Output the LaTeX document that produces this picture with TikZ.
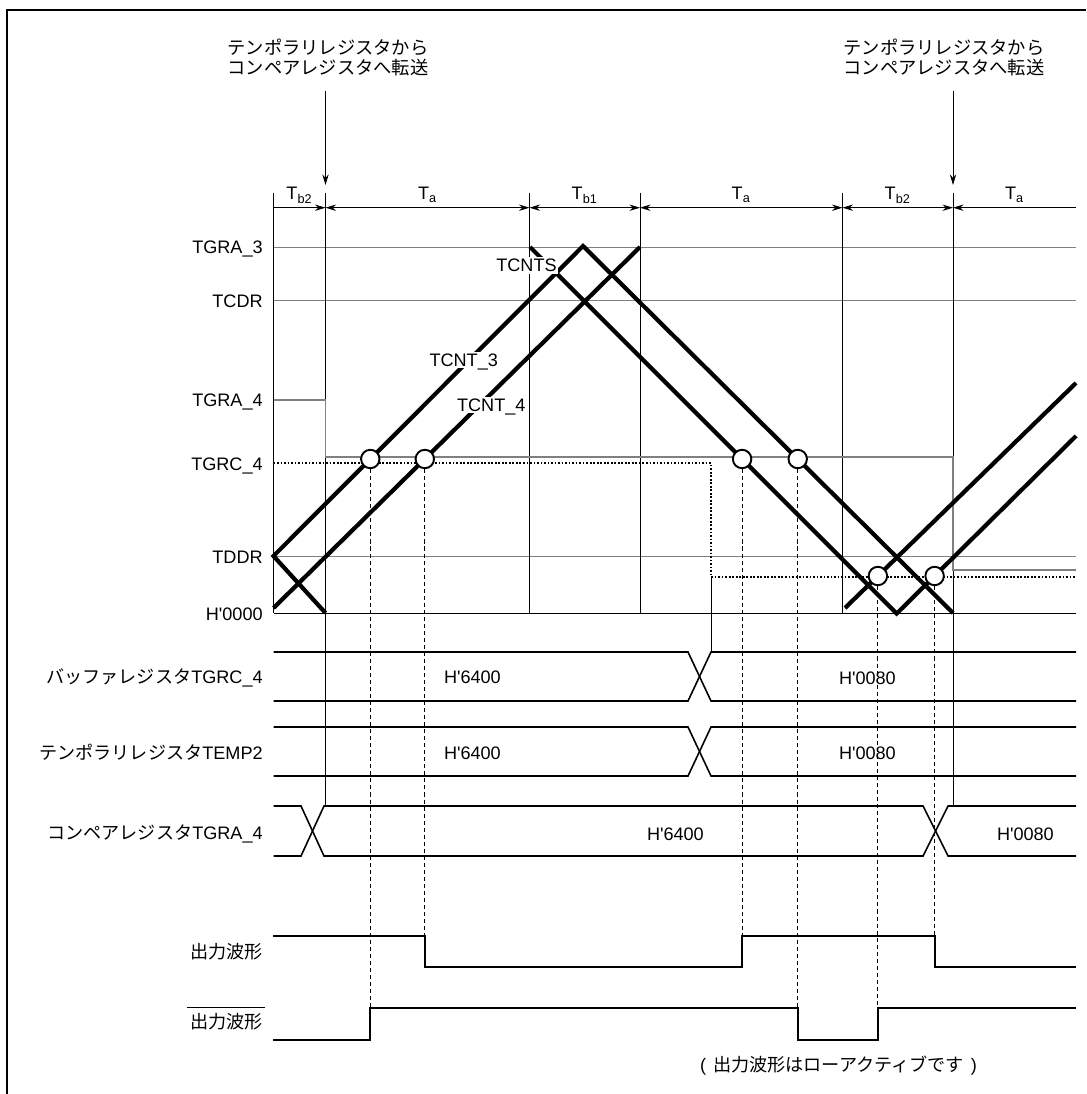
\documentclass[tikz,border=0pt]{standalone}
\usepackage{fontspec}
\setmainfont{Liberation Sans}
\newfontfamily\jpfont{Noto Sans CJK JP}
\newcommand{\jp}[1]{{\jpfont #1}}
\newcommand{\hx}[1]{H\textquotesingle #1}
\usepackage{tikz}
\usetikzlibrary{arrows.meta,positioning}

\tikzset{
  grid/.style={gray,line width=0.5pt},
  tick/.style={black,line width=0.5pt},
  count/.style={line width=2.4pt},
  bus/.style={line width=0.9pt},
  wave/.style={line width=1.1pt},
  lbl/.style={anchor=east,inner sep=0pt,text height=7.4pt,text depth=0pt},
  val/.style={inner sep=0pt,text height=7.4pt,text depth=0pt},
  cntlbl/.style={fill=white,inner sep=1pt,text height=7.4pt,text depth=0pt},
  hit/.style={circle,draw,fill=white,line width=1.1pt,inner sep=0pt,minimum size=10.5pt},
  guide/.style={line width=0.5pt,dash pattern=on 2.3pt off 1.7pt},
  lvl/.style={gray,line width=1.1pt},
  cmpdot/.style={line width=1.1pt,dash pattern=on 1pt off 1pt},
}

\begin{document}
\begin{tikzpicture}[x=0.02cm,y=-0.02cm,>={Stealth[length=6pt,width=3.6pt]},
    font=\fontsize{10.3pt}{11.9pt}\selectfont]
  \useasboundingbox (0,0) rectangle (1086,1094);
  % frame
  \draw[line width=1pt] (7,1094) -- (7,10) -- (1086,10);

  % period boundaries
  \coordinate (t0) at (273.5,193);
  \coordinate (t1) at (325.5,193);
  \coordinate (t2) at (529.5,193);
  \coordinate (t3) at (640,193);
  \coordinate (t4) at (842.5,193);
  \coordinate (t5) at (953,193);

  % register levels
  \foreach \yy in {247,300,556}
    \draw[grid] (273.5,\yy) -- (1076,\yy);
  \draw[tick] (273.5,613) -- (1076,613);

  \draw[tick] (t0) -- (273.5,613);
  \draw[tick] (t1) -- (325.5,806);
  \draw[tick] (t2) -- (529.5,613);
  \draw[tick] (t3) -- (640,613);
  \draw[tick] (t4) -- (842.5,613);
  \draw[tick] (t5) -- (953,806);

  % interval arrows
  \draw[tick,->] (273.5,207.7) -- (325.5,207.7);
  \draw[tick,<->] (325.5,207.7) -- (529.5,207.7);
  \draw[tick,<->] (529.5,207.7) -- (640,207.7);
  \draw[tick,<->] (640,207.7) -- (842.5,207.7);
  \draw[tick,<->] (842.5,207.7) -- (953,207.7);
  \draw[tick,<-] (953,207.7) -- (1076,207.7);
  \node[anchor=base] (tb2a) at (299.5,200) {T\textsubscript{b2}};
  \node[anchor=base] (ta1) at (427.5,200) {T\textsubscript{a}};
  \node[anchor=base] (tb1) at (584.7,200) {T\textsubscript{b1}};
  \node[anchor=base] (ta2) at (741.2,200) {T\textsubscript{a}};
  \node[anchor=base] (tb2b) at (897.7,200) {T\textsubscript{b2}};
  \node[anchor=base] (ta3) at (1014.5,200) {T\textsubscript{a}};

  % transfer notes
  \node[align=center,font=\jpfont\fontsize{10.4pt}{11.9pt}\selectfont] (xfer1) at (328,57.5)
    {テンポラリレジスタから\\コンペアレジスタへ転送};
  \node[align=center,font=\jpfont\fontsize{10.4pt}{11.9pt}\selectfont] (xfer2) at (944,57.5)
    {テンポラリレジスタから\\コンペアレジスタへ転送};
  \coordinate (x1end) at (325.5,185);
  \coordinate (x2end) at (953,185);
  \draw[tick,->] (xfer1.south -| t1) ++(0,8) -- (x1end);
  \draw[tick,->] (xfer2.south -| t5) ++(0,8) -- (x2end);

  % axis labels
  \node[lbl] (lga3) at (263,247) {TGRA\_3};
  \node[lbl] (lcdr) at (263,301) {TCDR};
  \node[lbl] (lga4) at (263,400) {TGRA\_4};
  \node[lbl] (lgc4) at (263,464) {TGRC\_4};
  \node[lbl] (lddr) at (263,556.5) {TDDR};
  \node[lbl] (lzero) at (263,614) {\hx{0000}};

  % compare levels
  \draw[lvl] (273.5,400) -- (325.5,400) -- (325.5,457) -- (953,457) -- (953,570) -- (1076,570);
  \draw[cmpdot] (273.5,463) -- (711,463) -- (711,577) -- (1076,577);
  \draw[tick] (711,577) -- (711,652);

  % counters
  \draw[count] (325.5,613) -- (273.5,556) -- (583,246) -- (953,613);
  \draw[count] (273.5,608) -- (640,247);
  \draw[count] (530,247) -- (896.7,613.5) -- (1076,436);
  \draw[count] (845,608) -- (1076,383);
  \node[cntlbl] (n3) at (463.7,360) {TCNT\_3};
  \node[cntlbl] (n4) at (491.3,405) {TCNT\_4};
  \node[cntlbl] (ns) at (526.5,265.5) {TCNTS};

  % compare match points
  \node[hit] (c1) at (370.3,459) {};
  \node[hit] (c2) at (424.8,459) {};
  \node[hit] (c3) at (742.1,459) {};
  \node[hit] (c4) at (797.7,459) {};
  \node[hit] (c5) at (877.9,576) {};
  \node[hit] (c6) at (934.6,576) {};

  % registers
  \draw[bus] (273.5,652) -- (688,652) -- (711,701) -- (1076,701);
  \draw[bus] (273.5,701) -- (688,701) -- (711,652) -- (1076,652);
  \draw[bus] (273.5,727) -- (688,727) -- (711,776) -- (1076,776);
  \draw[bus] (273.5,776) -- (688,776) -- (711,727) -- (1076,727);
  \draw[bus] (273.5,806) -- (301,806) -- (324,856) -- (923,856) -- (948,806) -- (1076,806);
  \draw[bus] (273.5,856) -- (301,856) -- (324,806) -- (923,806) -- (948,856) -- (1076,856);
  \node[lbl] (lbuf) at (263,677) {\jp{バッファレジスタ}TGRC\_4};
  \node[lbl] (ltmp) at (263,753.3) {\jp{テンポラリレジスタ}TEMP2};
  \node[lbl] (lcmp) at (263,833.3) {\jp{コンペアレジスタ}TGRA\_4};
  \node[val] (b1) at (472.4,677) {\hx{6400}};
  \node[val] (b2) at (867.4,678) {\hx{0080}};
  \node[val] (m1) at (472.4,753) {\hx{6400}};
  \node[val] (m2) at (867.4,753) {\hx{0080}};
  \node[val] (g1) at (675.4,834) {\hx{6400}};
  \node[val] (g2) at (1025.4,834) {\hx{0080}};

  % output waveforms
  \coordinate (wh) at (0,936);
  \coordinate (wl) at (0,967);
  \coordinate (bh) at (0,1008);
  \coordinate (bl) at (0,1040);
  \draw[guide] (c1.south) -- (c1 |- bh);
  \draw[guide] (c2.south) -- (c2 |- wh);
  \draw[guide] (c3.south) -- (c3 |- wh);
  \draw[guide] (c4.south) -- (c4 |- bh);
  \draw[guide] (c5.south) -- (c5 |- bh);
  \draw[guide] (c6.south) -- (c6 |- wh);
  \draw[wave] (273.3,936) -| (c2 |- wl) -| (c3 |- wh) -| (c6 |- wl) -- (1076,967);
  \draw[wave] (273.3,1040) -| (c1 |- bh) -| (c4 |- bl) -| (c5 |- bh) -- (1076,1008);
  \node[lbl] (lout) at (263,951.5) {\jp{出力波形}};
  \node[lbl] (lbar) at (263,1022.3) {\jp{出力波形}};
  \draw[tick] ([xshift=-1.5pt,yshift=4.8pt]lbar.north west) -- ([xshift=1pt,yshift=4.8pt]lbar.north east);
  \node[val] (note) at (838.5,1065) {(\hspace{4pt}\jp{出力波形はローアクティブです}\hspace{4pt})};
\end{tikzpicture}
\end{document}
